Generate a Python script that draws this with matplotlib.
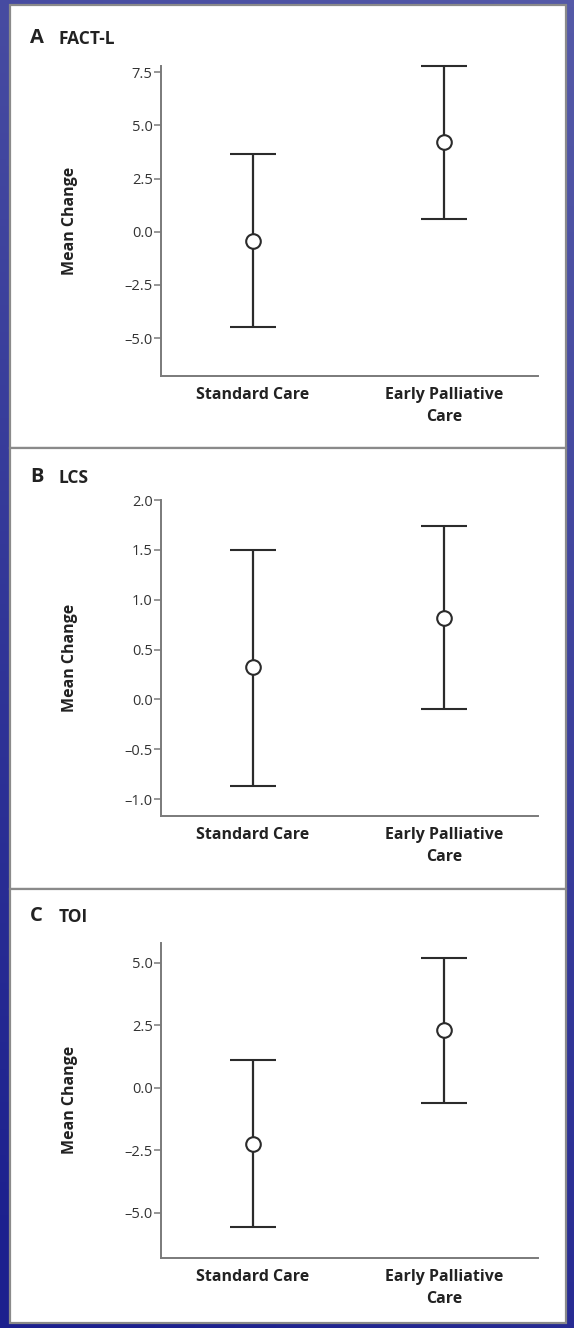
import numpy as np
import matplotlib
matplotlib.use("Agg")
import matplotlib.pyplot as plt
from matplotlib.patches import Rectangle

plt.rcParams['font.family'] = ['Open Sans', 'DejaVu Sans']

groups = ["Standard Care", "Early Palliative\nCare"]

# panel A: FACT-L
fact_mean = [-0.41, 4.21]
fact_low = [-4.47, 0.61]
fact_high = [3.66, 7.78]

# panel B: LCS
lcs_mean = [0.32, 0.82]
lcs_low = [-0.87, -0.10]
lcs_high = [1.50, 1.74]

# panel C: TOI
toi_mean = [-2.26, 2.31]
toi_low = [-5.56, -0.60]
toi_high = [1.11, 5.18]

W, H = 574, 1328
fig = plt.figure(figsize=(W / 100, H / 100), dpi=100)

# blue backdrop
bg = fig.add_axes([0, 0, 1, 1], zorder=0)
yy, xx = np.mgrid[0:1:200j, 0:1:100j]
top = np.array([0x55, 0x5a, 0xa8]) / 255
bot = np.array([0x1c, 0x20, 0x8e]) / 255
t = np.clip(yy * 0.8 + (1 - xx) * 0.25, 0, 1)[..., None]
img = top * (1 - t) + bot * t
bg.imshow(img, aspect="auto", extent=[0, 1, 0, 1], origin="upper")
bg.set_xlim(0, 1)
bg.set_ylim(0, 1)
bg.axis("off")

def fy(px):
    return 1 - px / H

# white panel boxes
panels_px = [(5, 448), (448, 889), (889, 1323)]
for y0, y1 in panels_px:
    bg.add_patch(Rectangle((10 / W, fy(y1)), 556 / W, (y1 - y0) / H,
                           facecolor="white", edgecolor="#8a8a8a",
                           linewidth=1.6, zorder=2))

panels = [
    ("A", "FACT-L", fact_mean, fact_low, fact_high, (65.5, 376), (-6.78, 7.82),
     [-5.0, -2.5, 0.0, 2.5, 5.0, 7.5], 38),
    ("B", "LCS", lcs_mean, lcs_low, lcs_high, (500, 816), (-1.17, 2.0),
     [-1.0, -0.5, 0.0, 0.5, 1.0, 1.5, 2.0], 477),
    ("C", "TOI", toi_mean, toi_low, toi_high, (942.7, 1258), (-6.81, 5.8),
     [-5.0, -2.5, 0.0, 2.5, 5.0], 916),
]

x = np.arange(len(groups))
ink = "#2b2b2b"
axcol = "#7a7a7a"

for letter, name, mean, low, high, (ptop, pbot), ylim, ticks, ty in panels:
    ax = fig.add_axes([161 / W, fy(pbot), (538 - 161) / W, (pbot - ptop) / H],
                      zorder=3)
    ax.set_facecolor("none")
    mean = np.array(mean)
    err = [mean - np.array(low), np.array(high) - mean]
    ax.errorbar(x, mean, yerr=err, fmt="o", mfc="white", mec=ink, mew=1.5,
                ms=10.5, ecolor=ink, elinewidth=1.6, capsize=16.5, capthick=1.6,
                color=ink, zorder=3, clip_on=False)
    ax.set_xlim(-0.48, 1.49)
    ax.set_ylim(*ylim)
    ax.set_yticks(ticks)
    ax.set_yticklabels([("%.1f" % v).replace("-", "\u2013") for v in ticks])
    ax.set_xticks(x)
    ax.set_xticklabels(groups, fontweight="bold", fontsize=11.5, color="#222222",
                       linespacing=1.45, va="top")
    ax.tick_params(axis="x", length=0, pad=8)
    ax.tick_params(axis="y", length=5, width=1.1, color=axcol, labelsize=10.5,
                   labelcolor="#333333", pad=1)
    for s in ["top", "right"]:
        ax.spines[s].set_visible(False)
    for s in ["left", "bottom"]:
        ax.spines[s].set_color(axcol)
        ax.spines[s].set_linewidth(1.4)
    ax.set_ylabel("Mean Change", fontweight="bold", fontsize=11.5, color="#222222")
    ax.yaxis.set_label_coords(-(161 - 78) / (538 - 161), 0.5)
    fig.text(30 / W, fy(ty), letter, fontsize=14.5, fontweight="bold",
             color="#222222", va="center", ha="left", zorder=4)
    fig.text(59 / W, fy(ty + 1), name, fontsize=12.5, fontweight="bold",
             color="#222222", va="center", ha="left", zorder=4)

fig.savefig("out.png", dpi=100)
